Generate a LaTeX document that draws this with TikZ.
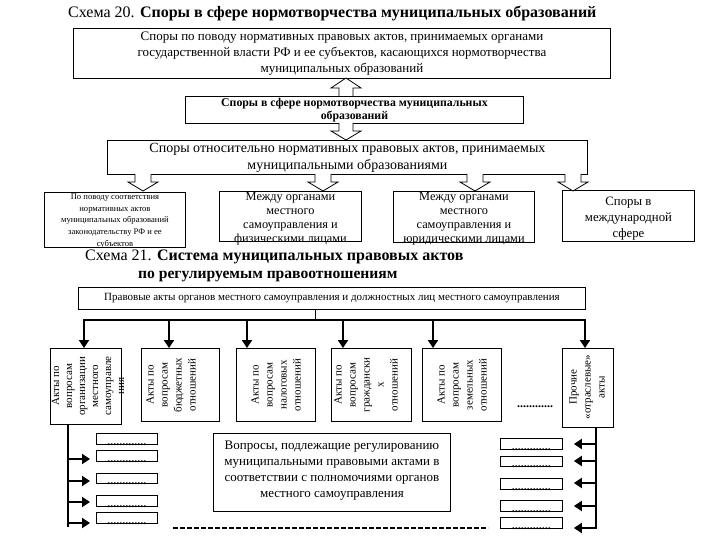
\documentclass[tikz,border=0pt]{standalone}
\usepackage{fontspec}
\setmainfont{Liberation Serif}
\usetikzlibrary{arrows.meta}
\tikzset{
  box/.style={draw, line width=0.9pt, inner sep=0pt, anchor=north west},
  txt/.style={inner sep=0pt, align=center},
  rtxt/.style={inner sep=0pt, align=center, rotate=90, font=\fontsize{11}{14}\selectfont},
  bigarr/.style={line width=2.6pt, -{Triangle[width=10pt,length=8pt]}},
  busline/.style={line width=2.6pt, line cap=rect},
  trunk/.style={line width=2.4pt},
  hollow/.style={draw, line width=0.8pt, fill=white},
  hdown/.pic={\draw[hollow] (-8,0) -- (-8,8) -- (-15,8) -- (0,17) -- (15,8) -- (8,8) -- (8,0);},
  hdownb/.pic={\draw[hollow] (-7,0) -- (-7,8) -- (-15,8) -- (0,17) -- (15,8) -- (7,8) -- (7,0);},
  hup/.pic={\draw[hollow] (-7,0) -- (-7,-8) -- (-15,-8) -- (0,-18) -- (15,-8) -- (7,-8) -- (7,0);},
  dots/.style={inner sep=0pt, font=\bfseries\fontsize{12}{12}\selectfont, anchor=base}
}
\begin{document}
\begin{tikzpicture}[x=1pt,y=-1pt]
\useasboundingbox[fill=white] (0,0) rectangle (720,540);

% ---------- Scheme 20 ----------
\node[txt, anchor=west, font=\fontsize{16}{19}\selectfont] (t20) at (68,14)
  {Схема 20. \textbf{Споры в сфере нормотворчества муниципальных образований}};

\node[box, minimum width=537pt, minimum height=50pt] (b1) at (73,28) {};
\node[txt, font=\fontsize{13}{16}\selectfont] at (b1.center)
  {Споры по поводу нормативных правовых актов, принимаемых органами\\
   государственной власти РФ и ее субъектов, касающихся нормотворчества\\
   муниципальных образований};

\node[box, minimum width=338pt, minimum height=27pt] (b2) at (185,96) {};
\node[txt, font=\bfseries\fontsize{11.8}{13.5}\selectfont] at (b2.center)
  {Споры в сфере нормотворчества муниципальных\\образований};

\node[box, minimum width=480pt, minimum height=34pt] (b3) at (107,140) {};
\node[txt, font=\fontsize{14}{17}\selectfont] at (b3.center)
  {Споры относительно нормативных правовых актов, принимаемых\\
   муниципальными образованиями};

\pic at (346,96) {hup};
\pic at (346,123) {hdownb};

\node[box, minimum width=141pt, minimum height=55pt] (c1) at (44,192) {};
\node[txt, font=\fontsize{8.6}{11.6}\selectfont] at ([yshift=-1pt]c1.center)
  {По поводу соответствия\\нормативных актов\\муниципальных образований\\законодательству РФ и ее\\субъектов};

\node[box, minimum width=142pt, minimum height=50pt] (c2) at (219,191) {};
\node[txt, font=\fontsize{12.3}{14}\selectfont] at ([yshift=-2pt]c2.center)
  {Между органами\\местного\\самоуправления и\\физическими лицами};

\node[box, minimum width=141pt, minimum height=51pt] (c3) at (393,191) {};
\node[txt, font=\fontsize{12.3}{14}\selectfont] at ([yshift=-1.5pt]c3.center)
  {Между органами\\местного\\самоуправления и\\юридическими лицами};

\node[box, minimum width=132pt, minimum height=51pt] (c4) at (562,190) {};
\node[txt, font=\fontsize{12.8}{16}\selectfont] at ([yshift=-2.5pt]c4.center)
  {Споры в\\международной\\сфере};

\pic at (143,174) {hdown};
\pic at (323,174) {hdown};
\pic at (475,174) {hdown};
\pic at (573,174) {hdown};

% ---------- Scheme 21 ----------
\node[txt, anchor=west, font=\fontsize{16}{19}\selectfont] (t21a) at (85,257)
  {Схема 21. \textbf{Система муниципальных правовых актов}};
\node[txt, anchor=west, font=\bfseries\fontsize{15.6}{19}\selectfont] (t21b) at (138,277)
  {по регулируемым правоотношениям};

\node[box, minimum width=507pt, minimum height=22pt] (pa) at (78,287) {};
\node[txt, font=\fontsize{11}{12}\selectfont] at (pa.center)
  {Правовые акты органов местного самоуправления и должностных лиц местного самоуправления};

\node[box, minimum width=71pt, minimum height=76pt] (a1) at (50,348) {};
\node[box, minimum width=78pt, minimum height=73pt] (a2) at (141,348) {};
\node[box, minimum width=79pt, minimum height=73pt] (a3) at (236,348) {};
\node[box, minimum width=80pt, minimum height=73pt] (a4) at (331,348) {};
\node[box, minimum width=79pt, minimum height=73pt] (a5) at (422,348) {};
\node[box, minimum width=51pt, minimum height=79pt] (a7) at (562,348) {};

\node[rtxt, font=\fontsize{11}{13}\selectfont] at (88,386) {Акты по\\вопросам\\организации\\местного\\самоуправле\\ния};
\node[rtxt] at (171,385) {Акты по\\вопросам\\бюджетных\\отношений};
\node[rtxt] at (276,385) {Акты по\\вопросам\\налоговых\\отношений};
\node[rtxt] at (366,385) {Акты по\\вопросам\\граждански\\х\\отношений};
\node[rtxt] at (462,385) {Акты по\\вопросам\\земельных\\отношений};
\node[rtxt] at (587,387) {Прочие\\«отраслевые»\\акты};

\node[dots] at (535,407) {............};

% bus
\coordinate (bj) at (315,320);
\coordinate (t1) at (84,320);
\coordinate (t2) at (169,320);
\coordinate (t3) at (247,320);
\coordinate (t4) at (343,320);
\coordinate (t5) at (433,320);
\coordinate (t7) at (585,320);
\draw[line width=1pt] (bj |- pa.south) -- (bj);
\draw[busline] (t1) -- (t7);
\draw[bigarr] (t1) -- (t1 |- a1.north);
\draw[bigarr] (t2) -- (t2 |- a2.north);
\draw[bigarr] (t3) -- (t3 |- a3.north);
\draw[bigarr] (t4) -- (t4 |- a4.north);
\draw[bigarr] (t5) -- (t5 |- a5.north);
\draw[bigarr] (t7) -- (t7 |- a7.north);

% centre box
\node[box, minimum width=237pt, minimum height=78pt] (q) at (213,433) {};
\node[txt, font=\fontsize{13}{16}\selectfont] at ([yshift=1.5pt]q.center)
  {Вопросы, подлежащие регулированию\\муниципальными правовыми актами в\\соответствии с полномочиями органов\\местного самоуправления};

% left small boxes
\node[box, minimum width=61pt, minimum height=11pt] (l1) at (96,433) {};
\node[box, minimum width=61pt, minimum height=11pt] (l2) at (96,450) {};
\node[box, minimum width=61pt, minimum height=10pt] (l3) at (96,473) {};
\node[box, minimum width=61pt, minimum height=11pt] (l4) at (96,495) {};
\node[box, minimum width=61pt, minimum height=11pt] (l5) at (96,512) {};
\foreach \n in {l1,l2,l3,l4,l5}{\node[dots] at ([yshift=-0.5pt]\n.south) {.............};}

% right small boxes
\node[box, minimum width=62pt, minimum height=11pt] (r1) at (500,438) {};
\node[box, minimum width=62pt, minimum height=10pt] (r2) at (500,456) {};
\node[box, minimum width=62pt, minimum height=11pt] (r3) at (500,478) {};
\node[box, minimum width=62pt, minimum height=11pt] (r4) at (500,500) {};
\node[box, minimum width=62pt, minimum height=11pt] (r5) at (500,517) {};
\foreach \n in {r1,r2,r3,r4,r5}{\node[dots] at ([yshift=-0.5pt]\n.south) {.............};}

% left tree
\coordinate (lt) at (68,527);
\draw[trunk] (lt |- a1.south) -- (lt);
\coordinate (lb2) at (68,459);
\coordinate (lb3) at (68,481);
\coordinate (lb4) at (68,502);
\coordinate (lb5) at (68,523);
\draw[bigarr, shorten >=6pt] (lb2) -- (lb2 -| l2.west);
\draw[bigarr, shorten >=6pt] (lb3) -- (lb3 -| l3.west);
\draw[bigarr, shorten >=6pt] (lb4) -- (lb4 -| l4.west);
\draw[bigarr, shorten >=6pt] (lb5) -- (lb5 -| l5.west);

% right tree
\coordinate (rt) at (596,529);
\draw[trunk] (rt |- a7.south) -- (rt);
\coordinate (rb1) at (596,444);
\coordinate (rb2) at (596,461);
\coordinate (rb3) at (596,483);
\coordinate (rb4) at (596,506);
\coordinate (rb5) at (596,528);
\draw[bigarr, shorten >=11pt] (rb1) -- (rb1 -| r1.east);
\draw[bigarr, shorten >=11pt] (rb2) -- (rb2 -| r2.east);
\draw[bigarr, shorten >=11pt] (rb3) -- (rb3 -| r3.east);
\draw[bigarr, shorten >=11pt] (rb4) -- (rb4 -| r4.east);
\draw[bigarr, shorten >=11pt] (rb5) -- (rb5 -| r5.east);

% bottom dashed line
\coordinate (dl) at (173,528);
\coordinate (dr) at (488,528);
\draw[line width=2.4pt, dash pattern=on 5pt off 2pt] (dl) -- (dr);
\end{tikzpicture}
\end{document}
